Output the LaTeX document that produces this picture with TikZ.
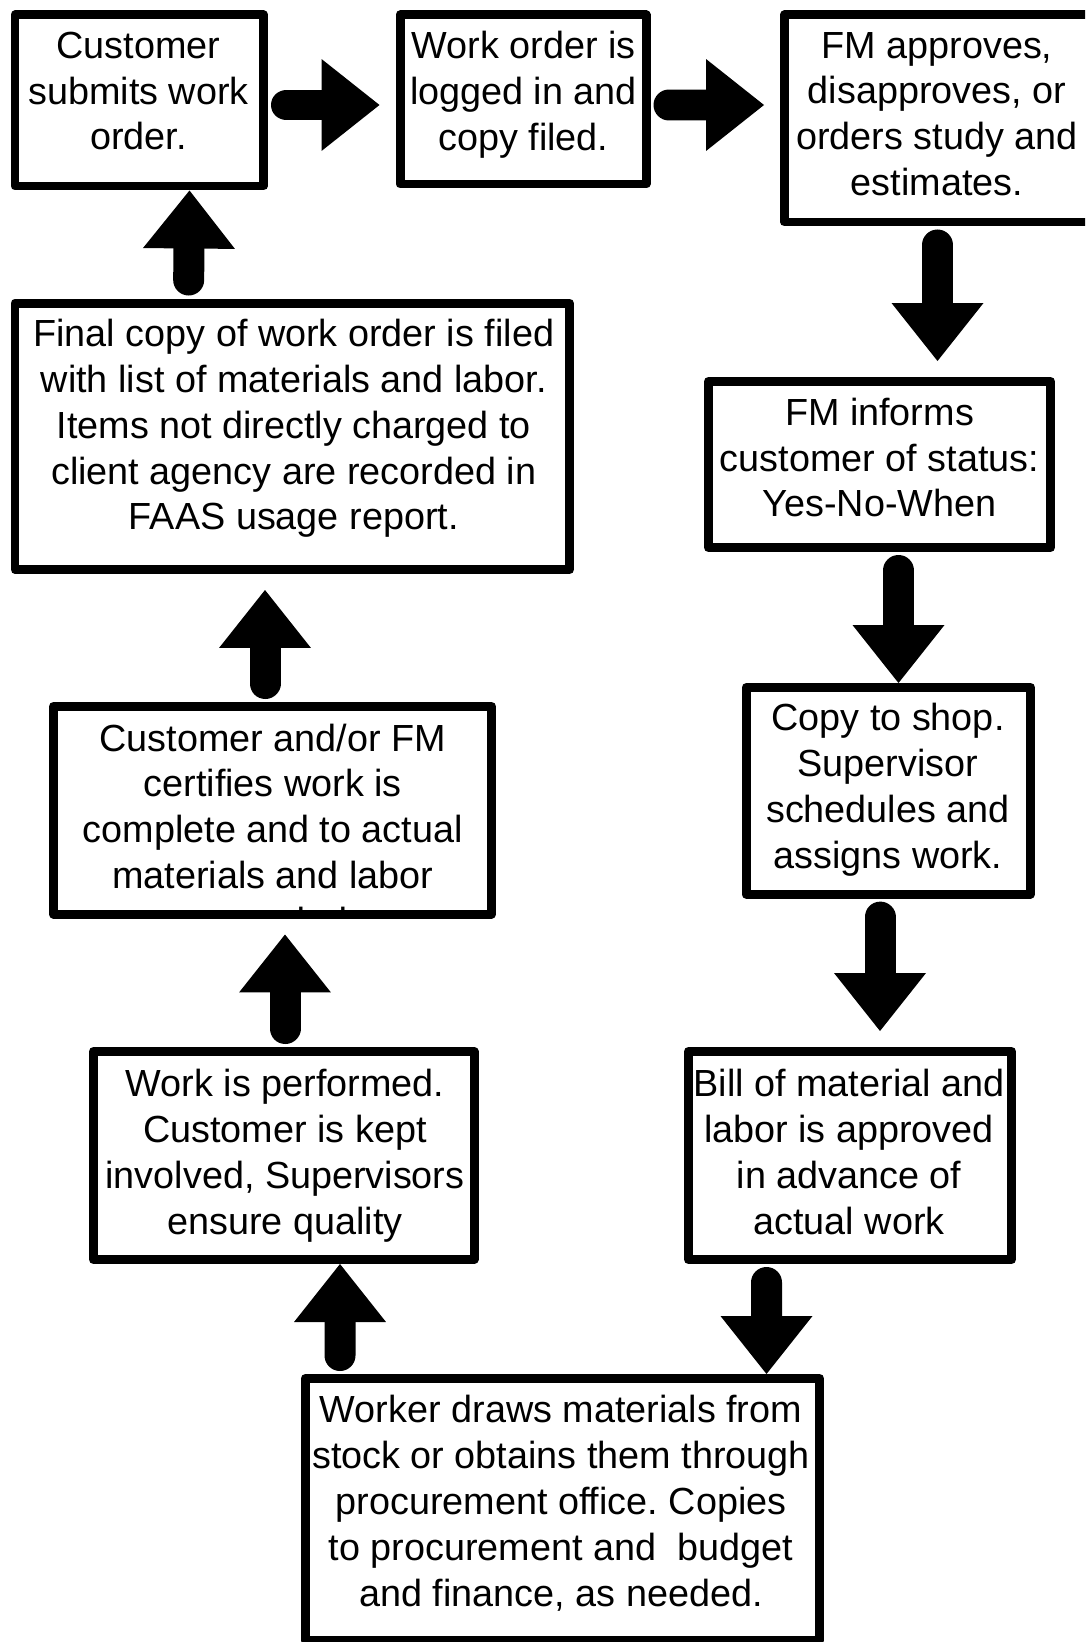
\documentclass[tikz,border=0pt]{standalone}
\usepackage{fontspec}
\setmainfont{Liberation Sans}
\frenchspacing
\usetikzlibrary{arrows.meta}

\tikzset{
  box/.style 2 args={draw, line width=0.18cm, line join=round, inner sep=0pt,
    minimum width=#1*0.02cm, minimum height=#2*0.02cm},
  txt/.style={align=center, inner sep=0pt, font=\fontsize{21.5}{26.1}\selectfont},
  blockarr/.style={line width=0.62cm, line cap=round, shorten <=0.37cm,
    -{Triangle[width=1.84cm, length=1.16cm, line width=0pt]}},
  gap/.style={shorten >=0.32cm}
}

\begin{document}
\begin{tikzpicture}[x=0.02cm, y=-0.02cm]
                \useasboundingbox (0,0) rectangle (1085,1642);
                \clip (0,0) rectangle (1085,1642);
                % boxes
                \node[box={248.5}{171}] (b1) at (139.25,100.5) {};
                \node[box={246}{169}] (b2) at (523,99.5) {};
                \node[box={306}{207}] (b3) at (937.5,118.5) {};
                \node[box={342}{166}] (b4) at (879.5,464.5) {};
                \node[box={284.5}{206.6}] (b5) at (888.25,790.8) {};
                \node[box={323}{208}] (b6) at (850,1155.5) {};
                \node[box={514.4}{262}] (b7) at (562.3,1509.5) {};
                \node[box={380.6}{208}] (b8) at (283.8,1155.5) {};
                \node[box={438}{207.5}] (b9) at (272.5,810.25) {};
                \node[box={554.5}{266.5}] (b10) at (292.25,436.25) {};
                % texts
                \node[txt] (t1) at (138.5,91) {Customer\\submits work\\order.};
                \node[txt] (t2) at (523.5,94.5) {Work order is\\logged in and\\copy filed.};
                \node[txt] (t3) at (937,114) {FM approves,\\disapproves, or\\orders study and\\estimates.};
                \node[txt] (t4) at (879.5,457.6) {FM informs\\customer of status:\\Yes-No-When};
                \node[txt] (t5) at (888,790) {Copy to shop.\\Supervisor\\schedules and\\assigns work.};
                \node[txt] (t6) at (849,1152) {Bill of material and\\labor is approved\\in advance of\\actual work};
                \node[txt] (t7) at (561,1503) {Worker draws materials from\\stock or obtains them through\\procurement office. Copies\\to procurement and\ \ budget\\and finance, as needed.};
                \node[txt] (t8) at (285,1156) {Work is performed.\\Customer is kept\\involved, Supervisors\\ensure quality};
                \node[txt] (t10) at (293.8,428.5) {Final copy of work order is filed\\with list of materials and labor.\\Items not directly charged to\\client agency are recorded in\\FAAS usage report.};
                \begin{scope}
                \clip (b9.north west) rectangle (b9.south east);
                \node[txt] (t9) at (272.8,829.3) {Customer and/or FM\\certifies work is\\complete and to actual\\materials and labor\\recorded};
                \end{scope}
                % arrows
                \draw[blockarr, gap] ([shift={(0,4.5)}]b1.east) -- ([shift={(0,5.5)}]b2.west);
                \draw[blockarr, gap] ([shift={(0,5.5)}]b2.east) -- ([shift={(0,-13.5)}]b3.west);
                \draw[blockarr, gap] (b3.south) -- ([shift={(58,0)}]b4.north);
                \draw[blockarr] ([shift={(19,0)}]b4.south) -- ([shift={(10.25,0)}]b5.north);
                \draw[blockarr, gap] ([shift={(-8.25,0)}]b5.south) -- ([shift={(30,0)}]b6.north);
                \draw[blockarr] ([shift={(-83.5,0)}]b6.south) -- ([shift={(204.2,0)}]b7.north);
                \draw[blockarr] ([shift={(-222.3,0)}]b7.north) -- ([shift={(56.2,0)}]b8.south);
                \draw[blockarr, gap] ([shift={(1.2,0)}]b8.north) -- ([shift={(12.5,0)}]b9.south);
                \draw[blockarr, gap] ([shift={(-7.5,0)}]b9.north) -- ([shift={(-27.25,0)}]b10.south);
                \draw[blockarr] ([shift={(-103.75,0)}]b10.north) -- ([shift={(50.25,0)}]b1.south);
            \end{tikzpicture}
\end{document}
